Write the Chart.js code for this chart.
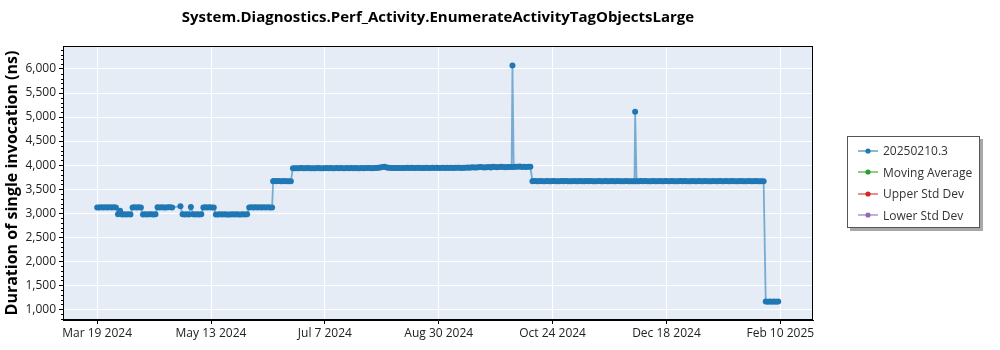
<!DOCTYPE html>
<html><head><meta charset="utf-8">
<script src="https://cdn.jsdelivr.net/npm/chart.js@4.4.1/dist/chart.umd.min.js"></script>
<style>
html,body{margin:0;padding:0;background:#fff;}
#wrap{position:relative;width:1000px;height:350px;}
#c{position:absolute;left:0;top:0;width:1000px;height:350px;}
#legend{position:absolute;left:847px;top:136px;width:133px;height:92px;border:1px solid #555;background:#fff;box-shadow:3px 3px 0 #a8a8a8;font-family:"Open Sans",sans-serif;font-size:12px;color:#333;box-sizing:border-box;padding-top:3px;}
.item{display:flex;align-items:center;height:21.5px;}
.item svg{margin-left:10px;margin-right:5px;}
</style></head><body>
<div id="wrap"><canvas id="c" width="1000" height="350"></canvas><div id="legend"></div></div>
<script>
// ---- data ----
const chartTitle = 'System.Diagnostics.Perf_Activity.EnumerateActivityTagObjectsLarge';
const yAxisTitle = 'Duration of single invocation (ns)';
const seriesLabels = ['20250210.3', 'Moving Average', 'Upper Std Dev', 'Lower Std Dev'];
// days since Mar 19 2024
const days = [
  0,1,2,3,4,5,6,7,8,9,
  10,11,12,13,14,15,16,17,18,19,
  20,21,22,23,24,25,26,27,28,29,
  30,31,32,33,34,35,36,40,
  41,42,43,44,45,46,47,48,49,50,
  51,52,53,54,55,56,57,58,59,60,
  61,62,63,64,65,66,67,68,69,70,
  71,72,73,74,75,76,77,78,79,80,
  81,82,83,84,84.5,85,86,87,88,89,
  90,91,92,93,94,95,96,97,98,99,
  100,101,102,103,104,105,106,107,108,109,
  110,111,112,113,114,115,116,117,118,119,
  120,121,122,123,124,125,126,127,128,129,
  130,131,132,133,134,135,136,137,138,139,
  140,141,142,143,144,145,146,147,148,149,
  150,151,152,153,154,155,156,157,158,159,
  160,161,162,163,164,165,166,167,168,169,
  170,171,172,173,174,175,176,177,178,179,
  180,181,182,183,184,185,186,187,188,189,
  190,191,192,193,194,195,196,197,198,199,
  199.4,
  200,201,202,203,204,205,206,207,208,
  209,210,211,212,213,214,215,216,217,218,
  219,220,221,222,223,224,225,226,227,228,
  229,230,231,232,233,234,235,236,237,238,
  239,240,241,242,243,244,245,246,247,248,
  249,250,251,252,253,254,255,256,257,258,
  258.3,
  259,260,261,262,263,264,265,266,267,268,
  269,270,271,272,273,274,275,276,277,278,
  279,280,281,282,283,284,285,286,287,288,
  289,290,291,292,293,294,295,296,297,298,
  299,300,301,302,303,304,305,306,307,308,
  309,310,311,312,313,314,315,316,317,318,
  319,320,
  321,322,323,324,325,326,327
];
const values = [
  3120,3118,3122,3119,3121,3120,3123,3118,3121,3120,
  2975,3050,2972,2976,2974,2977,2973,3120,3122,3119,
  3121,3118,2974,2976,2972,2977,2975,2973,2976,3121,
  3119,3122,3120,3118,3121,3123,3119,3145,
  2975,2972,2976,2974,3130,2977,2973,2975,2972,2976,
  3120,3122,3119,3121,3118,3120,2974,2971,2975,2973,
  2976,2972,2974,2970,2975,2973,2977,2972,2974,2976,
  2973,2975,3120,3122,3118,3121,3119,3122,3120,3121,
  3119,3122,3118,3120,3665,3668,3664,3667,3665,3666,
  3667,3664,3666,3665,3935,3932,3936,3934,3938,3933,
  3935,3937,3934,3936,3932,3935,3938,3934,3936,3933,
  3937,3935,3938,3936,3934,3939,3935,3937,3933,3936,
  3938,3935,3937,3934,3939,3936,3935,3938,3936,3940,
  3937,3939,3936,3941,3938,3944,3952,3958,3965,3950,
  3945,3938,3941,3940,3937,3942,3939,3941,3938,3943,
  3940,3944,3941,3939,3943,3940,3942,3938,3944,3941,
  3939,3943,3940,3945,3942,3938,3944,3941,3946,3942,
  3944,3940,3946,3943,3945,3941,3947,3944,3948,3946,
  3955,3950,3948,3953,3962,3955,3950,3957,3958,3952,
  3965,3958,3955,3962,3968,3960,3957,3963,3962,3958,
  6070,
  3960,3965,3968,3972,3962,3966,3962,3968,3965,
  3665,3667,3664,3666,3668,3665,3663,3667,3666,3664,
  3668,3665,3666,3663,3667,3665,3668,3664,3666,3665,
  3667,3663,3666,3668,3665,3664,3667,3665,3668,3663,
  3666,3665,3667,3664,3666,3668,3665,3663,3667,3666,
  3664,3668,3665,3666,3663,3667,3665,3666,3664,3665,
  5110,
  3666,3664,3667,3665,3668,3663,3666,3665,3667,3664,
  3666,3668,3665,3663,3667,3666,3664,3668,3665,3666,
  3663,3667,3665,3668,3664,3666,3665,3667,3663,3666,
  3668,3665,3664,3667,3666,3665,3663,3668,3666,3664,
  3667,3665,3666,3668,3663,3665,3667,3664,3666,3665,
  3668,3664,3666,3665,3667,3663,3666,3668,3665,3664,
  3666,3665,
  1160,1157,1162,1159,1161,1158,1160
];
const xTickDays = [0, 54.667, 109.333, 164, 218.667, 273.333, 328];
const xTickLabels = ['Mar 19 2024','May 13 2024','Jul 7 2024','Aug 30 2024','Oct 24 2024','Dec 18 2024','Feb 10 2025'];
const yTickValues = [1000,1500,2000,2500,3000,3500,4000,4500,5000,5500,6000];
const xRange = [-16.4, 343.7];
const yRange = [777, 6478];

// ---- chart ----
const FONT = '"Open Sans", sans-serif';
const colors = ['#1f77b4','#2ca02c','#d62728','#9467bd'];
const lineColors = ['rgba(31,119,180,0.55)','#2ca02c','#d62728','#9467bd'];
const datasets = seriesLabels.map((l, i) => ({
  label: l,
  data: i === 0 ? days.map((d, j) => ({x: d, y: values[j]})) : [],
  borderColor: lineColors[i],
  backgroundColor: colors[i],
  pointBackgroundColor: colors[i],
  pointBorderWidth: 0,
  pointRadius: 3,
  pointHoverRadius: 3,
  borderWidth: 1.8,
  tension: 0
}));

const bgPlugin = {
  id: 'bg',
  beforeDraw(chart) {
    const {ctx, chartArea: a} = chart;
    ctx.save();
    ctx.fillStyle = '#e5ecf6';
    ctx.fillRect(a.left, a.top, a.right - a.left, a.bottom - a.top);
    ctx.restore();
  },
  afterDraw(chart) {
    const {ctx, chartArea: a} = chart;
    ctx.save();
    ctx.strokeStyle = '#000';
    ctx.lineWidth = 1;
    ctx.strokeRect(Math.round(a.left) + 0.5, Math.round(a.top) + 0.5, Math.round(a.right - a.left) - 1, Math.round(a.bottom - a.top) - 1);
    // minor y ticks
    const ys = chart.scales.y;
    ctx.beginPath();
    for (let v = 800; v <= 6400; v += 100) {
      if (v % 500 === 0) continue;
      const py = Math.round(ys.getPixelForValue(v)) + 0.5;
      ctx.moveTo(a.left, py);
      ctx.lineTo(a.left - 2, py);
    }
    ctx.stroke();
    ctx.restore();
  }
};

new Chart(document.getElementById('c'), {
  type: 'line',
  data: {datasets},
  plugins: [bgPlugin],
  options: {
    responsive: false,
    animation: false,
    devicePixelRatio: 1,
    layout: {padding: {left: 0, right: 187, top: 0, bottom: 0}},
    plugins: {
      legend: {display: false},
      tooltip: {enabled: false},
      title: {
        display: true, text: chartTitle, fullSize: false,
        font: {family: FONT, size: 15, weight: 'bold'}, color: '#000',
        padding: {top: 9, bottom: 19}
      }
    },
    scales: {
      x: {
        type: 'linear', min: xRange[0], max: xRange[1],
        afterBuildTicks: s => { s.ticks = xTickDays.map(v => ({value: v})); },
        afterFit: s => { s.height = 30; },
        ticks: {callback: (v, i) => xTickLabels[i], font: {family: FONT, size: 12}, color: '#222', padding: 2, maxRotation: 0, autoSkip: false},
        grid: {color: '#fff', lineWidth: 1, tickColor: '#000', tickLength: 4},
        border: {display: true, color: '#000'}
      },
      y: {
        min: yRange[0], max: yRange[1],
        afterBuildTicks: s => { s.ticks = yTickValues.map(v => ({value: v})); },
        afterFit: s => { s.width = 63; },
        ticks: {callback: v => v.toLocaleString('en-US'), font: {family: FONT, size: 12}, color: '#222', padding: 3},
        grid: {color: '#fff', lineWidth: 1, tickColor: '#000', tickLength: 4},
        border: {display: true, color: '#000'},
        title: {display: true, text: yAxisTitle, font: {family: FONT, size: 16, weight: 'bold'}, color: '#000', padding: {top: 3, bottom: 0}}
      }
    }
  }
});

// HTML legend built from the datasets
const leg = document.getElementById('legend');
datasets.forEach((ds, i) => {
  const row = document.createElement('div');
  row.className = 'item';
  row.innerHTML = '<svg width="20" height="8"><line x1="0" y1="4" x2="20" y2="4" stroke="' + colors[i] + '" stroke-opacity="0.7" stroke-width="1.5"/><circle cx="10" cy="4" r="2.6" fill="' + colors[i] + '"/></svg>';
  const t = document.createElement('span');
  t.textContent = ds.label;
  row.appendChild(t);
  leg.appendChild(row);
});
</script>
</body></html>
